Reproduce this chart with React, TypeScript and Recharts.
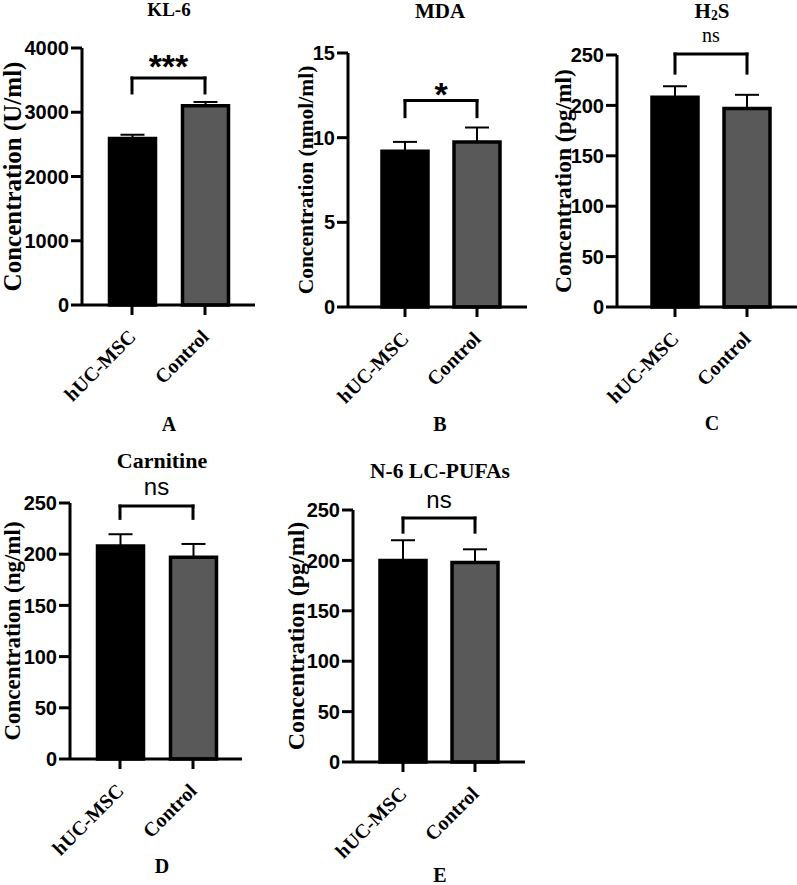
import React from "react";
import {
  BarChart,
  Bar,
  XAxis,
  YAxis,
  ErrorBar,
  ReferenceLine,
  Label,
  Cell
} from "recharts";

const groups = ["hUC-MSC", "Control"];
const barColors = ["#000000", "#595959"];

const kl6Mean = [2590, 3100];
const kl6Sem = [60, 60];
const kl6Ticks = [0, 1000, 2000, 3000, 4000];
const kl6Bracket = [3533, 3300];

const mdaMean = [9.2, 9.75];
const mdaSem = [0.55, 0.85];
const mdaTicks = [0, 5, 10, 15];
const mdaBracket = [12.19, 11.24];

const h2sMean = [208, 197];
const h2sSem = [11, 13.5];
const h2sTicks = [0, 50, 100, 150, 200, 250];
const h2sBracket = [251, 232];

const carnitineMean = [208, 197];
const carnitineSem = [11.5, 13];
const carnitineTicks = [0, 50, 100, 150, 200, 250];
const carnitineBracket = [247, 235];

const pufaMean = [200, 198];
const pufaSem = [20, 13];
const pufaTicks = [0, 50, 100, 150, 200, 250];
const pufaBracket = [242, 228];

const serif = "'Liberation Serif', 'Times New Roman', serif";
const sans = "'Liberation Sans', Arial, sans-serif";

const XTick = (props: any) => {
  const { x, y, payload, fontSize } = props;
  return (
    <g transform={`translate(${x},${y})`}>
      <text
        x={5}
        y={21}
        textAnchor="end"
        transform="rotate(-45 5 21)"
        fill="#000"
        fontFamily={serif}
        fontWeight={700}
        fontSize={fontSize}
      >
        {payload.value}
      </text>
    </g>
  );
};

type PanelProps = {
  mean: number[];
  sem: number[];
  ticks: number[];
  bracket: number[];
  sig: string;
  sigFont: string;
  sigSize: number;
  sigWeight: number;
  sigOffset: number;
  yLabel: string;
  yLabelFont: number;
  left: number;
  top: number;
  right: number;
  bottom: number;
  labelX: number;
  padL: number;
  padR: number;
};

function Panel(p: PanelProps) {
  const data = groups.map((g, i) => ({
    group: g,
    mean: p.mean[i],
    err: [0, p.sem[i]]
  }));
  const svgLeft = p.labelX - 14;
  const svgTop = p.top - 60;
  const yAxisWidth = p.left - svgLeft;
  const width = p.right - svgLeft + 3;
  const height = p.bottom - svgTop + 110;
  const line = { stroke: "#000", strokeWidth: 3 };

  return (
    <div style={{ position: "absolute", left: svgLeft, top: svgTop }}>
      <BarChart
        width={width}
        height={height}
        data={data}
        margin={{ top: 60, right: 3, bottom: 10, left: 0 }}
      >
        <XAxis
          dataKey="group"
          type="category"
          height={100}
          padding={{ left: p.padL, right: p.padR }}
          tickSize={10}
          tickMargin={2}
          axisLine={line}
          tickLine={line}
          tick={<XTick fontSize={20} />}
          interval={0}
        />
        <YAxis
          type="number"
          domain={[0, p.ticks[p.ticks.length - 1]]}
          ticks={p.ticks}
          interval={0}
          width={yAxisWidth}
          tickSize={11}
          tickMargin={2}
          axisLine={line}
          tickLine={line}
          tick={{ fill: "#000", fontSize: 20, fontFamily: sans, fontWeight: 700 }}
        >
          <Label
            value={p.yLabel}
            angle={-90}
            position="insideLeft"
            offset={14}
            style={{ textAnchor: "middle" }}
            fill="#000"
            fontSize={p.yLabelFont}
            fontFamily={serif}
            fontWeight={700}
          />
        </YAxis>
        <Bar
          dataKey="mean"
          barSize={46}
          stroke="#000"
          strokeWidth={3.5}
          isAnimationActive={false}
        >
          {data.map((d, i) => (
            <Cell key={d.group} fill={barColors[i]} />
          ))}
          <ErrorBar
            dataKey="err"
            width={12}
            strokeWidth={2}
            stroke="#000"
            direction="y"
            isAnimationActive={false}
          />
        </Bar>
        <ReferenceLine
          segment={[
            { x: groups[0], y: p.bracket[0] },
            { x: groups[1], y: p.bracket[0] }
          ]}
          stroke="#000"
          strokeWidth={3}
          strokeLinecap="square"
          ifOverflow="visible"
        >
          <Label
            value={p.sig}
            position="top"
            offset={p.sigOffset}
            fill="#000"
            fontSize={p.sigSize}
            fontFamily={p.sigFont}
            fontWeight={p.sigWeight}
          />
        </ReferenceLine>
        {groups.map(g => (
          <ReferenceLine
            key={g}
            segment={[
              { x: g, y: p.bracket[0] },
              { x: g, y: p.bracket[1] }
            ]}
            stroke="#000"
            strokeWidth={3}
            strokeLinecap="square"
            ifOverflow="visible"
          />
        ))}
      </BarChart>
    </div>
  );
}

const Caption = ({ x, y, size, children }: any) => (
  <div
    style={{
      position: "absolute",
      left: x,
      top: y,
      transform: "translate(-50%, -50%)",
      fontFamily: serif,
      fontWeight: 700,
      fontSize: size,
      lineHeight: 0.9,
      whiteSpace: "nowrap",
      color: "#000"
    }}
  >
    {children}
  </div>
);

export default function App() {
  return (
    <div
      style={{
        position: "absolute",
        left: 0,
        top: 0,
        width: 797,
        height: 885,
        background: "#fff",
        overflow: "hidden"
      }}
    >
      <Panel
        mean={kl6Mean}
        sem={kl6Sem}
        ticks={kl6Ticks}
        bracket={kl6Bracket}
        sig="***"
        sigFont={sans}
        sigSize={34}
        sigWeight={700}
        sigOffset={0}
        yLabel="Concentration (U/ml)"
        yLabelFont={25}
        left={82}
        top={48}
        right={255}
        bottom={305}
        labelX={12}
        padL={13.5}
        padR={13.5}
      />
      <Panel
        mean={mdaMean}
        sem={mdaSem}
        ticks={mdaTicks}
        bracket={mdaBracket}
        sig="*"
        sigFont={sans}
        sigSize={34}
        sigWeight={700}
        sigOffset={-5}
        yLabel="Concentration (nmol/ml)"
        yLabelFont={21.5}
        left={348}
        top={53}
        right={527}
        bottom={307}
        labelX={305}
        padL={21}
        padR={14}
      />
      <Panel
        mean={h2sMean}
        sem={h2sSem}
        ticks={h2sTicks}
        bracket={h2sBracket}
        sig="ns"
        sigFont={serif}
        sigSize={20}
        sigWeight={400}
        sigOffset={12}
        yLabel="Concentration (pg/ml)"
        yLabelFont={23.5}
        left={617}
        top={55}
        right={797}
        bottom={307}
        labelX={563}
        padL={22}
        padR={14}
      />
      <Panel
        mean={carnitineMean}
        sem={carnitineSem}
        ticks={carnitineTicks}
        bracket={carnitineBracket}
        sig="ns"
        sigFont={sans}
        sigSize={24}
        sigWeight={400}
        sigOffset={11}
        yLabel="Concentration (ng/ml)"
        yLabelFont={23}
        left={70}
        top={503}
        right={242}
        bottom={759}
        labelX={12}
        padL={13.5}
        padR={12.5}
      />
      <Panel
        mean={pufaMean}
        sem={pufaSem}
        ticks={pufaTicks}
        bracket={pufaBracket}
        sig="ns"
        sigFont={sans}
        sigSize={24}
        sigWeight={400}
        sigOffset={10}
        yLabel="Concentration (pg/ml)"
        yLabelFont={24}
        left={353}
        top={510}
        right={525}
        bottom={762}
        labelX={295}
        padL={14}
        padR={14}
      />

      <Caption x={169} y={10} size={19}>KL-6</Caption>
      <Caption x={440} y={11} size={21}>MDA</Caption>
      <Caption x={712} y={11} size={21}>
        H<span style={{ fontSize: "0.65em", position: "relative", top: "0.18em" }}>2</span>S
      </Caption>
      <Caption x={162} y={461} size={22}>Carnitine</Caption>
      <Caption x={440} y={472} size={21.5}>N-6 LC-PUFAs</Caption>

      <Caption x={169} y={424} size={20}>A</Caption>
      <Caption x={440} y={424} size={20}>B</Caption>
      <Caption x={712} y={423} size={20}>C</Caption>
      <Caption x={162} y={866} size={20}>D</Caption>
      <Caption x={440} y={875} size={20}>E</Caption>
    </div>
  );
}
